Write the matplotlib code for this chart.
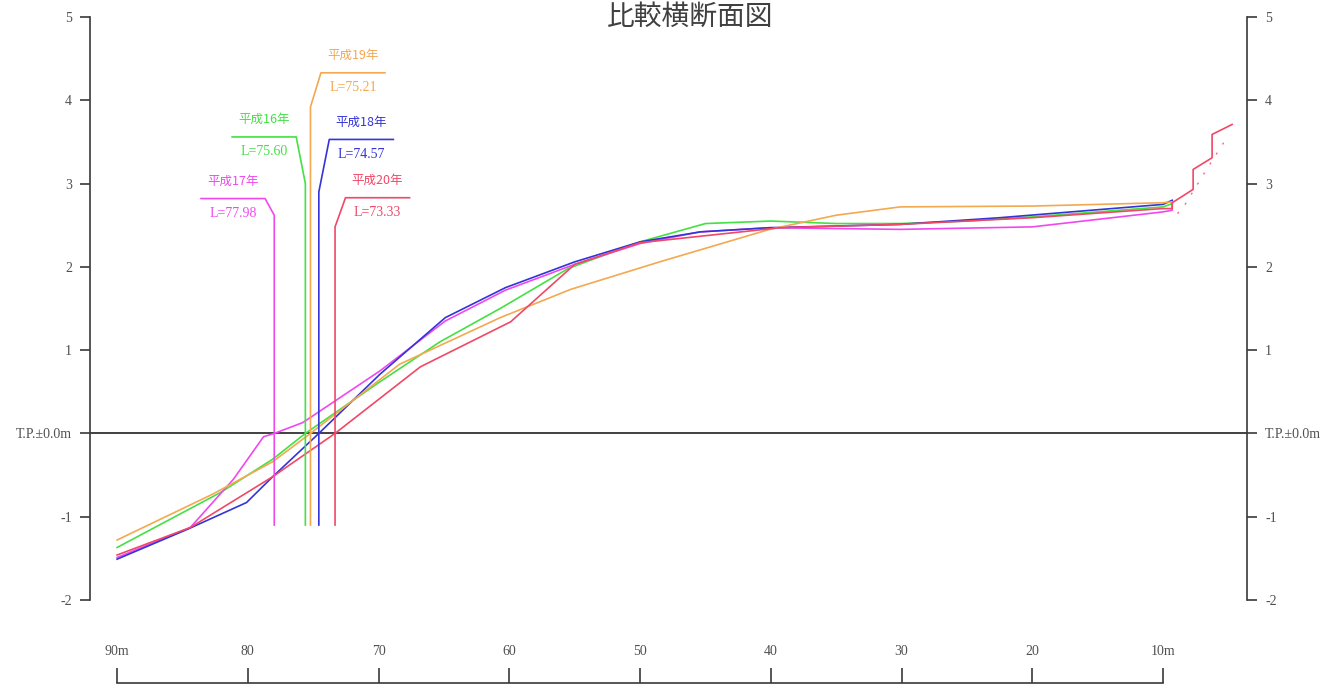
import numpy as np
import matplotlib
matplotlib.use("Agg")
import matplotlib.pyplot as plt

plt.rcParams['font.family'] = ['Noto Sans CJK JP', 'DejaVu Sans']

# distance from the reference point (m) and elevation T.P. (m)
h16_d = [90, 82.1, 78.1, 75.6, 69.9, 65.3, 60.7, 55.5, 50.0, 45.0, 40.0, 35.0, 30.1, 25.0, 20.0, 10.0, 9.3]
h16_y = [-1.37, -0.71, -0.31, 0.0, 0.62, 1.10, 1.50, 1.98, 2.30, 2.52, 2.55, 2.52, 2.52, 2.55, 2.60, 2.72, 2.76]

h17_d = [90, 84.4, 81.1, 78.8, 77.98, 75.8, 69.9, 64.9, 60.3, 55.0, 50.0, 45.4, 40.1, 30.1, 20.0, 10.0, 9.3, 9.3]
h17_y = [-1.49, -1.13, -0.55, -0.04, 0.0, 0.13, 0.75, 1.35, 1.72, 2.03, 2.28, 2.42, 2.47, 2.45, 2.48, 2.66, 2.68, 2.77]

h18_d = [90, 84.6, 80.1, 78.1, 74.57, 69.9, 64.9, 60.3, 55.0, 50.0, 45.4, 40.1, 30.1, 22.5, 10.0, 9.3]
h18_y = [-1.51, -1.15, -0.83, -0.52, 0.0, 0.71, 1.39, 1.75, 2.06, 2.30, 2.42, 2.47, 2.51, 2.59, 2.75, 2.80]

h19_d = [90, 82.7, 78.1, 75.21, 68.4, 60.7, 55.3, 48.5, 40.1, 35.0, 30.1, 20.0, 10.0, 9.3]
h19_y = [-1.28, -0.73, -0.34, 0.0, 0.83, 1.39, 1.73, 2.06, 2.45, 2.62, 2.72, 2.73, 2.77, 2.78]

h20_d = [90, 84.4, 78.1, 73.33, 66.8, 59.9, 55.0, 50.0, 39.3, 30.1, 20.0, 10.0, 9.3, 9.3, 7.7, 7.7, 6.25, 6.25, 4.72]
h20_y = [-1.46, -1.13, -0.52, 0.0, 0.80, 1.34, 2.03, 2.29, 2.47, 2.51, 2.59, 2.70, 2.70, 2.77, 2.93, 3.17, 3.31, 3.59, 3.71]

# faint dotted line near the revetment
dot_d = [8.9, 8.47, 6.79, 5.33, 4.9]
dot_y = [2.64, 2.71, 3.14, 3.50, 3.58]

years = ['平成16年', '平成17年', '平成18年', '平成19年', '平成20年']
lengths = [75.60, 77.98, 74.57, 75.21, 73.33]
colors = ['#44e044', '#f048f0', '#3434d8', '#f4a850', '#f04866']
profiles = [(h16_d, h16_y), (h17_d, h17_y), (h18_d, h18_y), (h19_d, h19_y), (h20_d, h20_y)]

# callout layout: (bend height, leader level, side: +1 = towards sea/right, -1 = left)
callouts = {
    '平成16年': (3.00, 3.56, -1),
    '平成17年': (2.62, 2.82, -1),
    '平成18年': (2.90, 3.53, 1),
    '平成19年': (3.92, 4.33, 1),
    '平成20年': (2.48, 2.83, 1),
}

yticks = [-2, -1, 0, 1, 2, 3, 4, 5]
ytick_labels = ['-2', '-1', 'T.P.±0.0m', '1', '2', '3', '4', '5']
xticks = [90, 80, 70, 60, 50, 40, 30, 20, 10]
xtick_labels = ['90m', '80', '70', '60', '50', '40', '30', '20', '10m']

fig = plt.figure(figsize=(13.2, 6.86), dpi=100)
ax = fig.add_axes([0.0682, 0.1254, 0.8765, 0.8498])
ax.set_xlim(92.07, 3.58)
ax.set_ylim(-2, 5)

axis_col = '#3a3a3a'
serif = ['Liberation Serif', 'DejaVu Serif']
tick_font = {'family': serif, 'size': 10, 'color': '#505050'}

# T.P. 0 line
ax.axhline(0, color='#404040', lw=1.4, zorder=1)

for (d, y), c in zip(profiles, colors):
    ax.plot(d, y, color=c, lw=1.2, zorder=3)
ax.plot(dot_d, dot_y, color='#f06a8a', lw=1.0, ls=(0, (1.5, 7)), zorder=3)

# callouts with the shoreline position
for yr, L, c in zip(years, lengths, colors):
    bend, level, side = callouts[yr]
    slant = 0.8 if side > 0 else 0.7
    x_end = L - side * slant
    x_far = x_end - side * 4.9
    ax.plot([L, L, x_end, x_far], [-1.1, bend, level, level], color=c, lw=1.2, zorder=4)
    xc = (x_end + x_far) / 2
    ax.text(xc, level + 0.21, yr, color=c, fontsize=9, ha='center', va='center')
    ax.text(xc, level - 0.18, 'L=%.2f' % L, color=c, fontsize=10, ha='center', va='center',
            family=serif)

# elevation scales on both sides
for s in ['left', 'right']:
    ax.spines[s].set_color(axis_col)
    ax.spines[s].set_linewidth(1.2)
ax.spines['bottom'].set_visible(False)
ax.set_yticks(yticks)
ax.set_yticklabels(ytick_labels, fontdict=tick_font)
ax.tick_params(axis='y', left=True, right=True, labelleft=True, labelright=True,
               direction='out', length=7, width=1.2, color=axis_col, pad=6)

# distance scale drawn below, ticks pointing up with labels above
ax.spines['top'].set_position(('axes', -0.1424))
ax.spines['top'].set_bounds(10, 90)
ax.spines['top'].set_color(axis_col)
ax.spines['top'].set_linewidth(1.2)
ax.xaxis.set_ticks_position('top')
ax.set_xticks(xticks)
ax.set_xticklabels(xtick_labels, fontdict=tick_font)
ax.tick_params(axis='x', direction='out', length=11, width=1.2, color=axis_col, pad=7)

fig.text(0.523, 0.975, '比較横断面図', fontsize=20, color='#404040', ha='center', va='center')

fig.savefig('out.png', dpi=100)
